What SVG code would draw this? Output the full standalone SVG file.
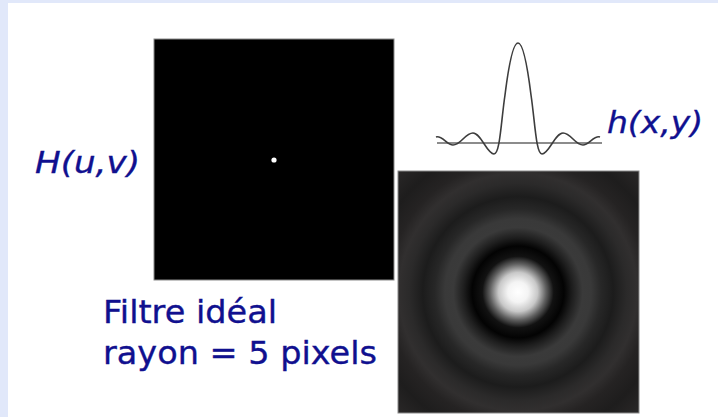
<svg xmlns="http://www.w3.org/2000/svg" width="718" height="417" viewBox="0 0 718 417">
  <defs>
    <style>
      .lbl { font-family: "DejaVu Sans", Verdana, sans-serif; fill: #10108f; stroke: #10108f; stroke-width: 0.35; }
      .it { font-style: italic; }
    </style>
    <radialGradient id="airy" gradientUnits="userSpaceOnUse" cx="518" cy="292" r="170">
      <stop offset="0" stop-color="#ffffff"/>
      <stop offset="0.06" stop-color="#f4f4f4"/>
      <stop offset="0.115" stop-color="#c8c8c8"/>
      <stop offset="0.165" stop-color="#606060"/>
      <stop offset="0.21" stop-color="#121212"/>
      <stop offset="0.27" stop-color="#030303"/>
      <stop offset="0.32" stop-color="#1e1e1e"/>
      <stop offset="0.38" stop-color="#3a3a3a"/>
      <stop offset="0.43" stop-color="#393939"/>
      <stop offset="0.49" stop-color="#272727"/>
      <stop offset="0.56" stop-color="#1c1c1c"/>
      <stop offset="0.64" stop-color="#2b2a2a"/>
      <stop offset="0.70" stop-color="#312f2f"/>
      <stop offset="0.77" stop-color="#252323"/>
      <stop offset="0.87" stop-color="#1e1d1d"/>
      <stop offset="1" stop-color="#292727"/>
    </radialGradient>
    <filter id="soft" x="-10%" y="-10%" width="120%" height="120%">
      <feGaussianBlur stdDeviation="0.5"/>
    </filter>
  </defs>

  <rect x="0" y="0" width="718" height="417" fill="#e1e8fa"/>
  <rect x="8" y="3" width="710" height="414" fill="#ffffff"/>

  <g id="H-image">
    <rect x="154" y="39" width="240" height="241" fill="#000000" stroke="#8a8a8a" stroke-width="1"/>
    <circle cx="274" cy="160" r="2.6" fill="#ffffff"/>
  </g>

  <g id="h-image">
    <rect x="398" y="171" width="241" height="242" fill="url(#airy)" stroke="#8a8a8a" stroke-width="1"/>
  </g>

  <g id="h-profile">
    <line x1="437" y1="143" x2="602" y2="143" stroke="#8c8c8c" stroke-width="2"/>
    <path d="M436,137 C442,135 447,145 453,145 C461,145 465,133 473,133 C481,133 487,154 494,154 C500,154 501,122 505,95 C509,63 513,43 518,43 C523,43 527,63 531,95 C535,122 536,154 542,154 C549,154 555,133 563,133 C571,133 575,145 583,145 C589,145 594,135 600,137" fill="none" stroke="#3c3c3c" stroke-width="1.6" filter="url(#soft)"/>
  </g>

  <g id="labels">
    <text class="lbl it" x="35" y="173" font-size="31" textLength="105" lengthAdjust="spacingAndGlyphs">H(u,v)</text>
    <text class="lbl it" x="607" y="133" font-size="30" textLength="96" lengthAdjust="spacingAndGlyphs">h(x,y)</text>
    <text class="lbl" x="103" y="323" font-size="32" textLength="174" lengthAdjust="spacingAndGlyphs">Filtre idéal</text>
    <text class="lbl" x="103" y="364" font-size="32" textLength="274" lengthAdjust="spacingAndGlyphs">rayon = 5 pixels</text>
  </g>
</svg>
